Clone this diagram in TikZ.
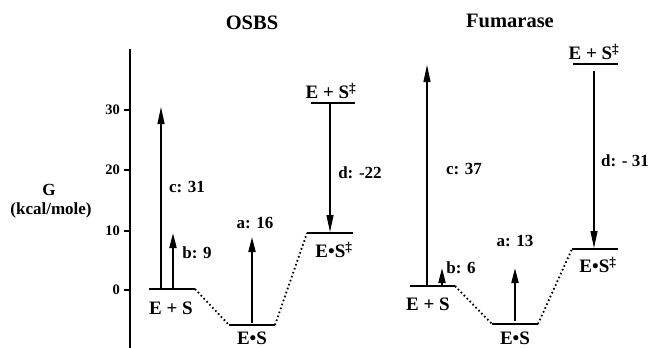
\documentclass[tikz,border=0pt]{standalone}
\usepackage{fontspec}
\setmainfont{Liberation Serif}
\usetikzlibrary{arrows.meta}
\begin{document}
\begin{tikzpicture}[x=1pt,y=-1pt,
  lvl/.style={line width=2pt},
  dots/.style={line width=1.8pt, dash pattern=on 1.6pt off 2.6pt},
  thinarr/.style={line width=1.1pt, -{Triangle[length=17pt,width=7pt]}},
  thickarr/.style={line width=2pt, -{Triangle[length=15pt,width=7pt]}},
  lbl/.style={font=\fontsize{19}{19}\selectfont\bfseries, inner sep=0pt},
  albl/.style={font=\fontsize{17}{17}\selectfont\bfseries, inner sep=0pt},
  ttl/.style={font=\fontsize{20.5}{20.5}\selectfont\bfseries, inner sep=0pt},
  tick/.style={font=\fontsize{14.5}{14.5}\selectfont\bfseries, inner sep=0pt, anchor=east}]
\useasboundingbox (0,0) rectangle (651,348);

% axis
\coordinate (axtop) at (130,49);
\coordinate (axbot) at (130,348);
\draw[line width=2pt] (axtop) -- (axbot);
\foreach \yy/\vv in {110/30,170/20,231/10,290/0}{
  \coordinate (t\vv) at (130,\yy);
  \draw[line width=1.6pt] (t\vv) -- ++(-6,0);
  \node[tick] (tl\vv) at (120,\yy) {\vv};
}
\node[font=\fontsize{17}{17}\selectfont\bfseries, inner sep=0pt] (G) at (49,190) {G};
\node[font=\fontsize{17}{17}\selectfont\bfseries, inner sep=0pt] (unit) at (51,210) {(kcal/mole)};

% titles
\node[ttl] (osbs) at (252,23) {OSBS};
\node[ttl] (fum) at (510,21) {Fumarase};

% ===== OSBS =====
\coordinate (oA1) at (149,289); \coordinate (oA2) at (195,289);
\coordinate (oB1) at (229,325); \coordinate (oB2) at (275,325);
\coordinate (oC1) at (307,233); \coordinate (oC2) at (353,233);
\coordinate (oD1) at (311,103); \coordinate (oD2) at (355,103);
\draw[lvl] (oA1) -- (oA2);
\draw[lvl] (oB1) -- (oB2);
\draw[lvl] (oC1) -- (oC2);
\draw[lvl] (oD1) -- (oD2);
\draw[dots] (oA2) -- (oB1);
\draw[dots] (oB2) -- (oC1);
\node[lbl] (oESlbl) at (171,308) {E + S};
\node[lbl] (oEbSlbl) at (252,338) {E•S};
\node[lbl] (oEbStlbl) at (334,250) {E•S\textsuperscript{‡}};
\node[lbl] (oEStlbl) at (331,91) {E + S\textsuperscript{‡}};
% arrows
\coordinate (ocs) at (161,288); \coordinate (oce) at (161,107);
\coordinate (obs) at (173,288); \coordinate (obe) at (173,233);
\coordinate (oas) at (252,323); \coordinate (oae) at (252,237);
\coordinate (ods) at (330,104); \coordinate (ode) at (330,232);
\draw[thinarr] (ocs) -- (oce);
\draw[thickarr] (obs) -- (obe);
\draw[thickarr] (oas) -- (oae);
\draw[thinarr] (ods) -- (ode);
\node[albl] (oc) at (187,187) {c: 31};
\node[albl] (ob) at (197,253) {b: 9};
\node[albl] (oa) at (255,223) {a: 16};
\node[albl] (od) at (360,173) {d: -22};

% ===== Fumarase =====
\coordinate (fA1) at (410,286); \coordinate (fA2) at (455,286);
\coordinate (fB1) at (492,324); \coordinate (fB2) at (538,324);
\coordinate (fC1) at (572,249); \coordinate (fC2) at (618,249);
\coordinate (fD1) at (573,64);  \coordinate (fD2) at (618,64);
\draw[lvl] (fA1) -- (fA2);
\draw[lvl] (fB1) -- (fB2);
\draw[lvl] (fC1) -- (fC2);
\draw[lvl] (fD1) -- (fD2);
\draw[dots] (fA2) -- (fB1);
\draw[dots] (fB2) -- (fC1);
\node[lbl] (fESlbl) at (428,304) {E + S};
\node[lbl] (fEbSlbl) at (515,338) {E•S};
\node[lbl] (fEbStlbl) at (598,265) {E•S\textsuperscript{‡}};
\node[lbl] (fEStlbl) at (594,52) {E + S\textsuperscript{‡}};
\coordinate (fcs) at (427,285); \coordinate (fce) at (427,65);
\coordinate (fbs) at (442,285); \coordinate (fbe) at (442,268);
\coordinate (fas) at (515,321); \coordinate (fae) at (515,268);
\coordinate (fds) at (594,71);  \coordinate (fde) at (594,248);
\draw[thinarr] (fcs) -- (fce);
\draw[thickarr] (fbs) -- (fbe);
\draw[thickarr] (fas) -- (fae);
\draw[thinarr] (fds) -- (fde);
\node[albl] (fc) at (464,169) {c: 37};
\node[albl] (fb) at (461,268) {b: 6};
\node[albl] (fa) at (515,241) {a: 13};
\node[albl] (fd) at (625,161) {d: - 31};
\end{tikzpicture}
\end{document}
